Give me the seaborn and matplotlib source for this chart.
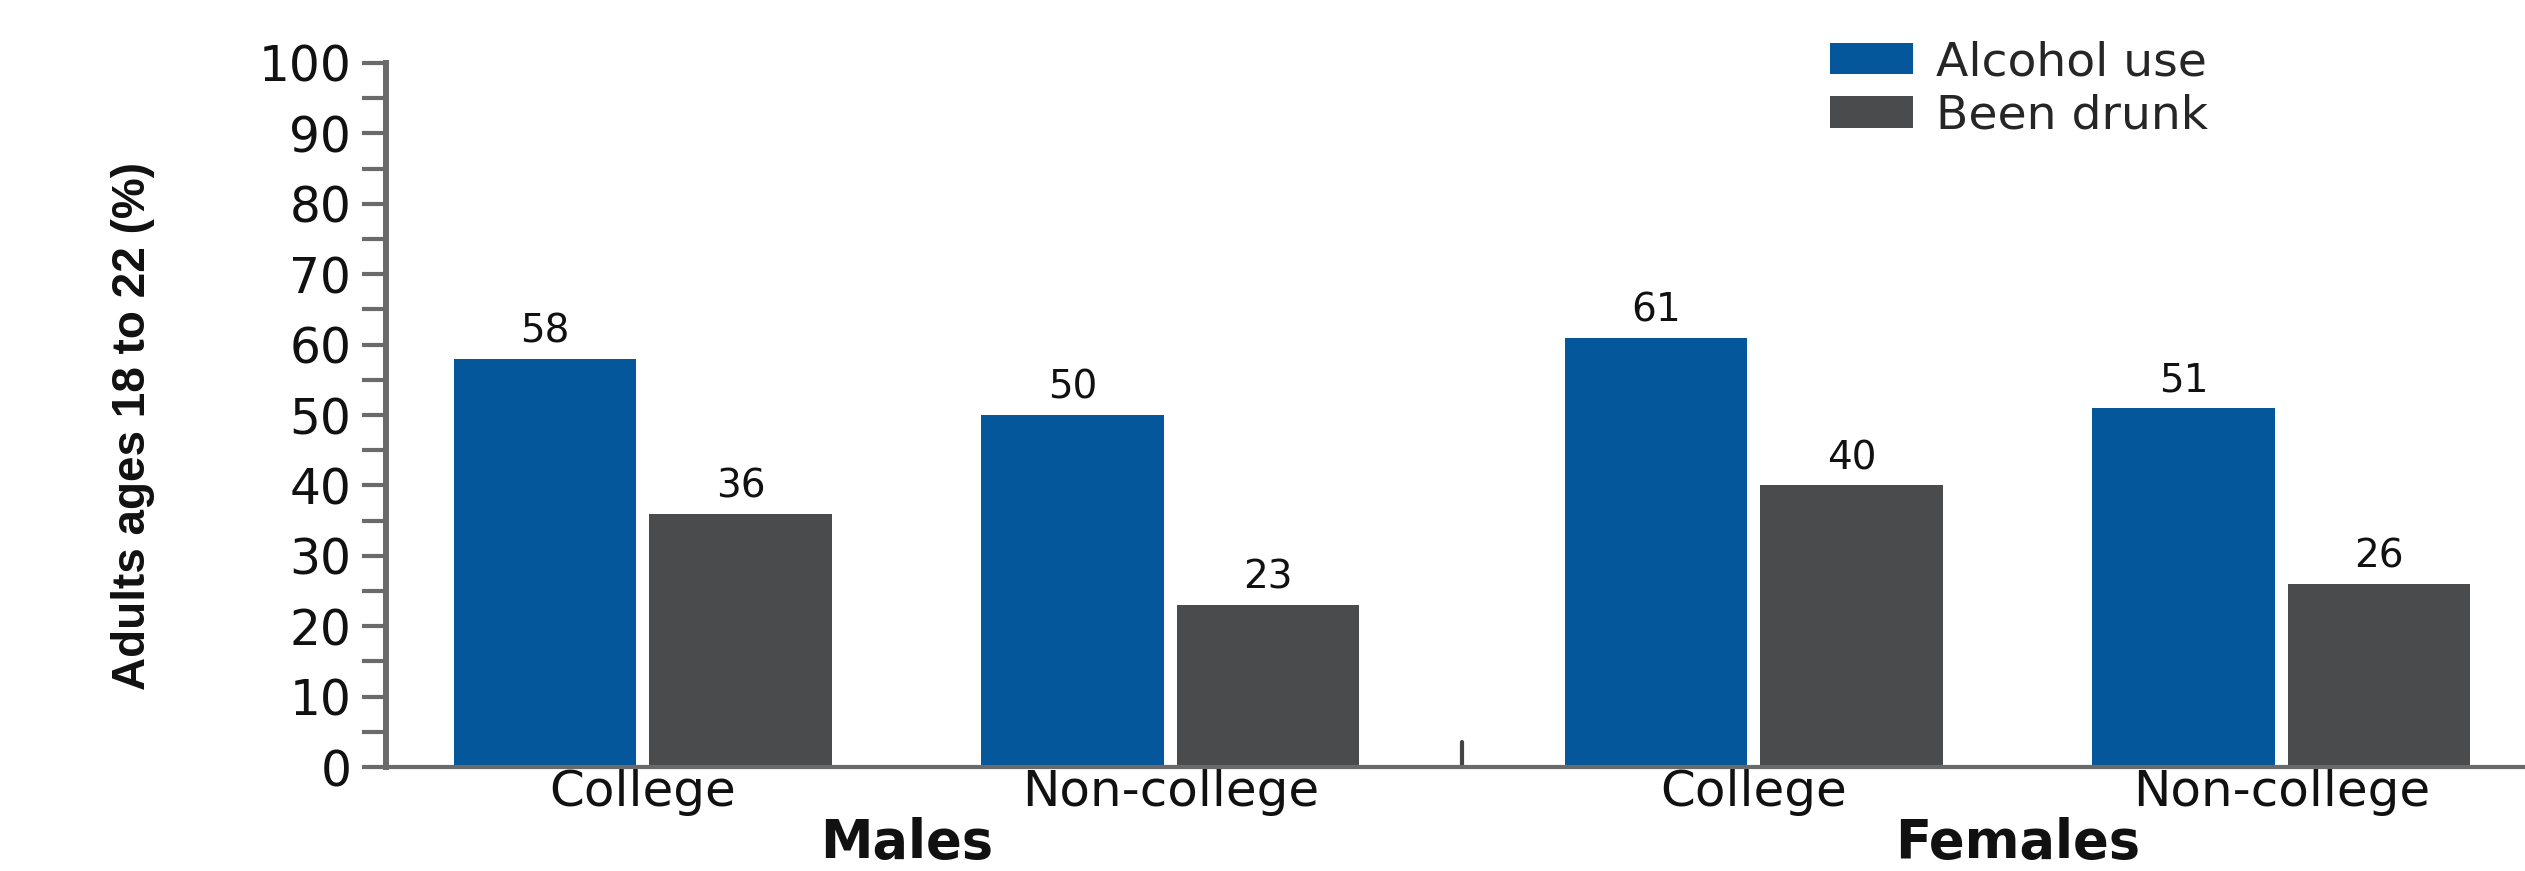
import numpy as np
import pandas as pd
import matplotlib
matplotlib.use("Agg")
import matplotlib.pyplot as plt
import matplotlib.transforms as mtransforms
import seaborn as sns

# ---- data ----
sexes = ["Males", "Males", "Females", "Females"]
education = ["College", "Non-college", "College", "Non-college"]
alcohol_use = [58, 50, 61, 51]
been_drunk = [36, 23, 40, 26]
measures = ["Alcohol use", "Been drunk"]
y_ticks = [0, 10, 20, 30, 40, 50, 60, 70, 80, 90, 100]
y_label = "Adults ages 18 to 22 (%)"

# ---- style ----
BLUE = "#03579A"
GRAY = "#4A4B4D"
AXIS_GRAY = "#6a6a6a"
GROUP_GAP = 0.106

sns.set_style("white")
plt.rcParams["font.family"] = ["DejaVu Sans"]

group_pos = np.arange(len(education)) + GROUP_GAP * (np.array(sexes) == "Females")
df = pd.DataFrame({
    "pos": np.concatenate([group_pos, group_pos]),
    "value": alcohol_use + been_drunk,
    "measure": [measures[0]] * len(alcohol_use) + [measures[1]] * len(been_drunk),
})

W, H = 2525, 871
fig = plt.figure(figsize=(W / 100, H / 100), dpi=100)
ax = fig.add_axes([386 / W, 104 / H, 2139 / W, 704 / H])

sns.barplot(data=df, x="pos", y="value", hue="measure", hue_order=measures,
            palette=[BLUE, GRAY], native_scale=True, width=0.741, gap=0.0665,
            saturation=1, linewidth=0, errorbar=None, ax=ax)

leg = ax.get_legend()
handles = leg.legend_handles
labels = [t.get_text() for t in leg.get_texts()]
leg.remove()

ax.set_xlim(-0.487, 3.568)
ax.set_ylim(0, 100)

for c in ax.containers:
    ax.bar_label(c, fmt="%d", padding=6, fontsize=28, color="#111111")

for s in ["top", "right"]:
    ax.spines[s].set_visible(False)
ax.spines["left"].set_linewidth(4.3)
ax.spines["left"].set_color(AXIS_GRAY)
ax.spines["bottom"].set_linewidth(3)
ax.spines["bottom"].set_color(AXIS_GRAY)

ax.set_yticks(y_ticks)
ax.set_yticks(np.arange(0, 101, 5), minor=True)
ax.tick_params(axis="y", which="both", left=True, length=17, width=3,
               color=AXIS_GRAY, direction="out")
ax.tick_params(axis="y", which="major", labelsize=35, pad=8, labelcolor="#111111")

ax.set_xticks(group_pos)
ax.set_xticklabels(education)
ax.tick_params(axis="x", which="both", bottom=False, length=0, labelsize=36,
               pad=1, labelcolor="#111111")

ax.set_xlabel("")
ax.set_ylabel(y_label, fontsize=33, fontweight="bold",
              family=["Liberation Sans", "DejaVu Sans"], color="#111111")
ax.yaxis.set_label_coords(-0.108, 0.484)

# group labels
trans = mtransforms.blended_transform_factory(ax.transData, fig.transFigure)
for sex in dict.fromkeys(sexes):
    center = group_pos[np.array(sexes) == sex].mean()
    ax.text(center, 2 / H, sex, transform=trans, ha="center", va="bottom",
            fontsize=38, fontweight="bold", color="#111111")

# divider tick between groups
males_last = group_pos[np.array(sexes) == "Males"].max()
females_first = group_pos[np.array(sexes) == "Females"].min()
ax.axvline((males_last + females_first) / 2, ymin=0, ymax=25 / 704, color="#444444", lw=3)

fig.legend(handles, labels, loc="upper left", bbox_to_anchor=(1830 / W, 1 - 40 / H),
           frameon=False, fontsize=34, handlelength=1.75, handleheight=0.66,
           handletextpad=0.5, labelspacing=0.18, borderpad=0, borderaxespad=0)

fig.savefig("out.png", dpi=100)
